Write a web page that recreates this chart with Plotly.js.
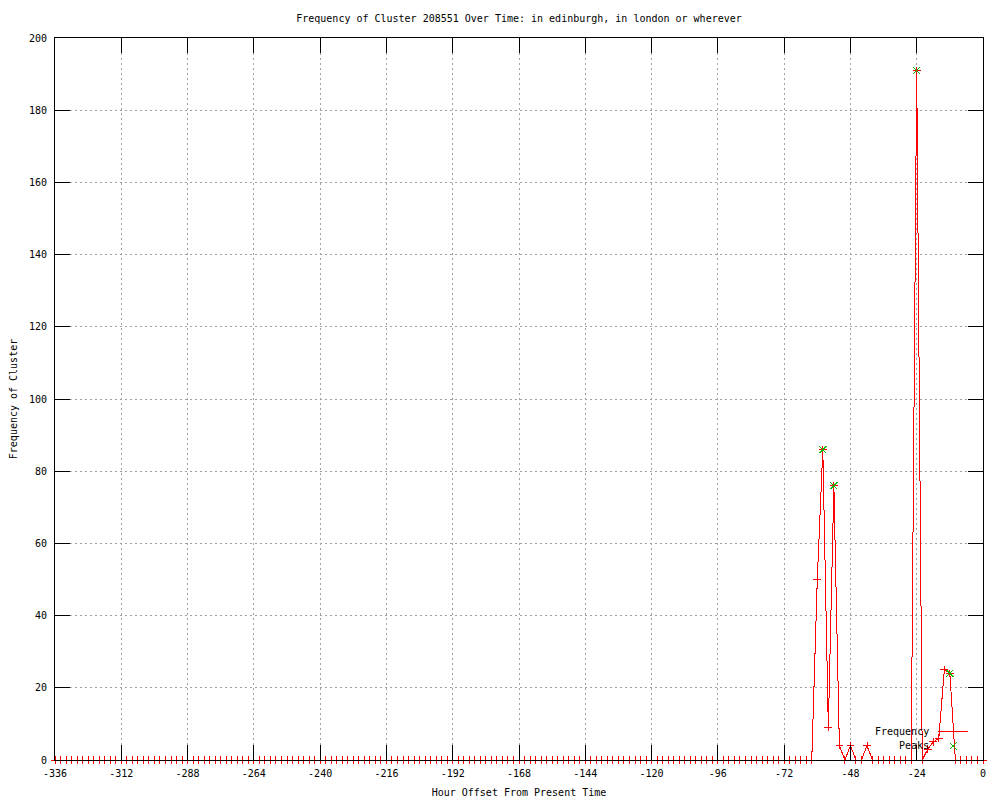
<!DOCTYPE html>
<html>
<head>
<meta charset="utf-8">
<script src="https://cdn.plot.ly/plotly-3.0.1.min.js"></script>
<style>
  html, body { margin: 0; padding: 0; background: #ffffff; }
  #chart { width: 1000px; height: 800px; }
  #chart .scatterlayer path, #chart .shapelayer path { shape-rendering: crispEdges; }
</style>
</head>
<body>
<div id="chart"></div>
<script>
// ---- Data ----
const hours = [
  -336,-334,-332,-330,-328,-326,-324,-322,-320,-318,-316,-314,
  -312,-310,-308,-306,-304,-302,-300,-298,-296,-294,-292,-290,
  -288,-286,-284,-282,-280,-278,-276,-274,-272,-270,-268,-266,
  -264,-262,-260,-258,-256,-254,-252,-250,-248,-246,-244,-242,
  -240,-238,-236,-234,-232,-230,-228,-226,-224,-222,-220,-218,
  -216,-214,-212,-210,-208,-206,-204,-202,-200,-198,-196,-194,
  -192,-190,-188,-186,-184,-182,-180,-178,-176,-174,-172,-170,
  -168,-166,-164,-162,-160,-158,-156,-154,-152,-150,-148,-146,
  -144,-142,-140,-138,-136,-134,-132,-130,-128,-126,-124,-122,
  -120,-118,-116,-114,-112,-110,-108,-106,-104,-102,-100,-98,
  -96,-94,-92,-90,-88,-86,-84,-82,-80,-78,-76,-74,
  -72,-70,-68,-66,-64,-62,-60,-58,-56,-54,-52,-50,
  -48,-46,-44,-42,-40,-38,-36,-34,-32,-30,-28,-26,
  -24,-22,-20,-18,-16,-14,-12,-10,-8,-6,-4,-2,
  0
];
const frequency = [
  0,0,0,0,0,0,0,0,0,0,0,0,
  0,0,0,0,0,0,0,0,0,0,0,0,
  0,0,0,0,0,0,0,0,0,0,0,0,
  0,0,0,0,0,0,0,0,0,0,0,0,
  0,0,0,0,0,0,0,0,0,0,0,0,
  0,0,0,0,0,0,0,0,0,0,0,0,
  0,0,0,0,0,0,0,0,0,0,0,0,
  0,0,0,0,0,0,0,0,0,0,0,0,
  0,0,0,0,0,0,0,0,0,0,0,0,
  0,0,0,0,0,0,0,0,0,0,0,0,
  0,0,0,0,0,0,0,0,0,0,0,0,
  0,0,0,0,0,0,50,86,9,76,4,0,
  4,0,0,4,0,0,0,0,0,0,0,0,
  191,0,3,5,6,25,24,0,0,0,0,0,
  0
];
const peakHours  = [-58, -54, -24, -12];
const peakValues = [86, 76, 191, 24];

const xTickVals = [-336,-312,-288,-264,-240,-216,-192,-168,-144,-120,-96,-72,-48,-24,0];
const xTickText = ["-336","-312","-288","-264","-240","-216","-192","-168","-144","-120","-96","-72","-48","-24","0"];
const yTickVals = [0,20,40,60,80,100,120,140,160,180,200];
const yTickText = ["0","20","40","60","80","100","120","140","160","180","200"];

const seriesNames = ["Frequency", "Peaks"];
const titleText = "Frequency of Cluster 208551 Over Time: in edinburgh, in london or wherever";
const xTitle = "Hour Offset From Present Time";
const yTitle = "Frequency of Cluster";

// ---- Styles ----
const FONT = "DejaVu Sans Mono, monospace";
const RED = "#ff0000";
const GREEN = "#00c000";

const traces = [
  {
    x: hours, y: frequency, name: seriesNames[0],
    type: "scatter", mode: "lines+markers",
    line: { color: RED, width: 1 },
    marker: { symbol: "cross-thin-open", size: 5.5, color: RED, line: { color: RED, width: 1 } },
    cliponaxis: false, showlegend: false
  },
  {
    x: peakHours, y: peakValues, name: seriesNames[1],
    type: "scatter", mode: "markers",
    marker: { symbol: "x-thin-open", size: 7, color: GREEN, line: { color: GREEN, width: 1 } },
    cliponaxis: false, showlegend: false
  }
];

const axisCommon = {
  showline: true, linecolor: "#000000", linewidth: 1, mirror: "ticks",
  ticks: "inside", ticklen: 15, tickcolor: "#000000", tickwidth: 1,
  showgrid: true, gridcolor: "#a0a0a0", gridwidth: 1, griddash: "2px,3px",
  zeroline: false, tickfont: { family: FONT, size: 10, color: "#000000" },
  fixedrange: true
};

// key (gnuplot-style: label left, sample right)
const keyLineY = 0.0388, keyPeakY = 0.0194;
const keyX0 = 0.9515, keyX1 = 0.9838, keyMid = 0.9677, keyTextX = 0.944;

const layout = {
  width: 1000, height: 800,
  paper_bgcolor: "#ffffff", plot_bgcolor: "#ffffff",
  margin: { l: 55, r: 17, t: 38, b: 40 },
  font: { family: FONT, size: 10, color: "#000000" },
  title: { text: titleText, font: { family: FONT, size: 10, color: "#000000" }, x: 0.519, xanchor: "center", y: 0.977, yanchor: "middle" },
  xaxis: Object.assign({}, axisCommon, {
    range: [-336, 0], tickmode: "array", tickvals: xTickVals, ticktext: xTickText,
    ticklabelstandoff: 4,
    title: { text: xTitle, font: { family: FONT, size: 10, color: "#000000" }, standoff: 10 }
  }),
  yaxis: Object.assign({}, axisCommon, {
    range: [0, 200], tickmode: "array", tickvals: yTickVals, ticktext: yTickText,
    ticklabelstandoff: 5,
    title: { text: yTitle, font: { family: FONT, size: 10, color: "#000000" }, standoff: 9 }
  }),
  showlegend: false,
  annotations: [
    { xref: "paper", yref: "paper", x: keyTextX, y: keyLineY, xanchor: "right", yanchor: "middle",
      text: seriesNames[0], showarrow: false, font: { family: FONT, size: 10, color: "#000000" } },
    { xref: "paper", yref: "paper", x: keyTextX, y: keyPeakY, xanchor: "right", yanchor: "middle",
      text: seriesNames[1], showarrow: false, font: { family: FONT, size: 10, color: "#000000" } }
  ],
  shapes: [
    { type: "line", xref: "paper", yref: "paper", x0: keyX0, x1: keyX1, y0: keyLineY, y1: keyLineY,
      line: { color: RED, width: 1 } },
    { type: "path", xref: "paper", yref: "paper", xsizemode: "pixel", ysizemode: "pixel",
      xanchor: keyMid, yanchor: keyLineY, path: "M-3.5,0H3.5M0,-3.5V3.5", line: { color: RED, width: 1 } },
    { type: "path", xref: "paper", yref: "paper", xsizemode: "pixel", ysizemode: "pixel",
      xanchor: keyMid, yanchor: keyPeakY, path: "M-3.5,-3.5L3.5,3.5M-3.5,3.5L3.5,-3.5", line: { color: GREEN, width: 1 } }
  ]
};

Plotly.newPlot("chart", traces, layout, { displayModeBar: false, staticPlot: true });
</script>
</body>
</html>
